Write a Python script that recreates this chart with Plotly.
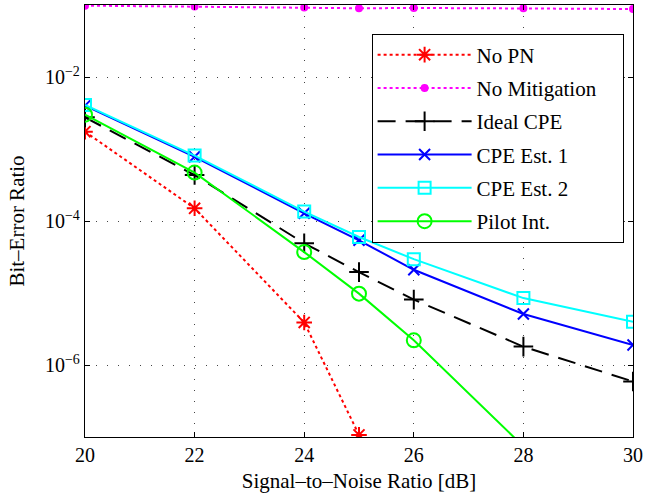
import plotly.graph_objects as go

snr = [20, 22, 24, 25, 26, 28, 30]

ber_no_pn = [1.74e-3, 1.5e-4, 3.9e-6, 1.07e-7, None, None, None]
ber_no_mitigation = [0.098, 0.095, 0.092, 0.090, 0.091, 0.090, 0.088]
ber_ideal_cpe = [2.75e-3, 4.35e-4, 4.9e-5, 1.95e-5, 8.1e-6, 1.8e-6, 5.9e-7]
ber_cpe_est1 = [4.0e-3, 7.8e-4, 1.28e-4, 5.4e-5, 2.1e-5, 5.1e-6, 1.9e-6]
ber_cpe_est2 = [4.1e-3, 8.1e-4, 1.35e-4, 6.0e-5, 2.95e-5, 8.5e-6, 4.0e-6]
ber_pilot_int = [3.0e-3, 4.7e-4, 3.7e-5, 9.8e-6, 2.2e-6, 7.4e-8, None]

y_tick_vals = [1e-2, 1e-4, 1e-6]
y_tick_text = ["10<sup>\u22122</sup>", "10<sup>\u22124</sup>", "10<sup>\u22126</sup>"]
x_tick_vals = [20, 22, 24, 26, 28, 30]

series = [
    ("No PN", ber_no_pn, "#ff0000", "dot", "asterisk-open", 13),
    ("No Mitigation\u2003", ber_no_mitigation, "#ff00ff", "dot", "circle", 6),
    ("Ideal CPE", ber_ideal_cpe, "#000000", "18px,10px", "cross-thin-open", 14),
    ("CPE Est. 1", ber_cpe_est1, "#0000ff", "solid", "x-thin-open", 11),
    ("CPE Est. 2", ber_cpe_est2, "#00ffff", "solid", "square-open", 12),
    ("Pilot Int.", ber_pilot_int, "#00ff00", "solid", "circle-open", 14),
]

FONT = "Liberation Serif, Times New Roman, serif"

fig = go.Figure()
for i, (name, vals, color, dash, sym, size) in enumerate(series):
    fig.add_trace(go.Scatter(
        x=snr, y=vals, name=name, mode="lines+markers",
        line=dict(color=color, width=2, dash=dash),
        marker=dict(symbol=sym, size=size, color=color,
                    line=dict(color=color, width=2)),
        connectgaps=False, legendgroup=f"g{i}",
    ))

axis_common = dict(
    showline=True, linecolor="black", linewidth=1.3, mirror="ticks",
    ticks="inside", ticklen=5, tickcolor="black", tickwidth=1,
    showgrid=True, gridcolor="#444444", gridwidth=1, griddash="1px,10px",
    zeroline=False,
    tickfont=dict(family=FONT, size=20, color="black"),
)

fig.update_xaxes(
    range=[20, 30], tickvals=x_tick_vals,
    title=dict(text="Signal\u2013to\u2013Noise Ratio [dB]",
               font=dict(family=FONT, size=21, color="black"), standoff=8),
    **axis_common,
)
fig.update_yaxes(
    type="log", range=[-7, -1], tickvals=y_tick_vals, ticktext=y_tick_text,
    title=dict(text="Bit\u2013Error Ratio",
               font=dict(family=FONT, size=21, color="black"), standoff=14),
    **axis_common,
)

fig.update_layout(
    width=647, height=501,
    margin=dict(l=85, r=11, t=4, b=64),
    plot_bgcolor="white", paper_bgcolor="white",
    font=dict(family=FONT, size=21, color="black"),
    legend=dict(
        x=0.523, y=0.934, xanchor="left", yanchor="top",
        bgcolor="white", bordercolor="black", borderwidth=1,
        font=dict(family=FONT, size=21, color="black"),
        tracegroupgap=3, itemwidth=94,
    ),
)

fig.write_html(
    "out.html",
    config={"displayModeBar": False},
    post_script="document.body.style.margin='0';document.body.style.overflow='hidden';",
)
